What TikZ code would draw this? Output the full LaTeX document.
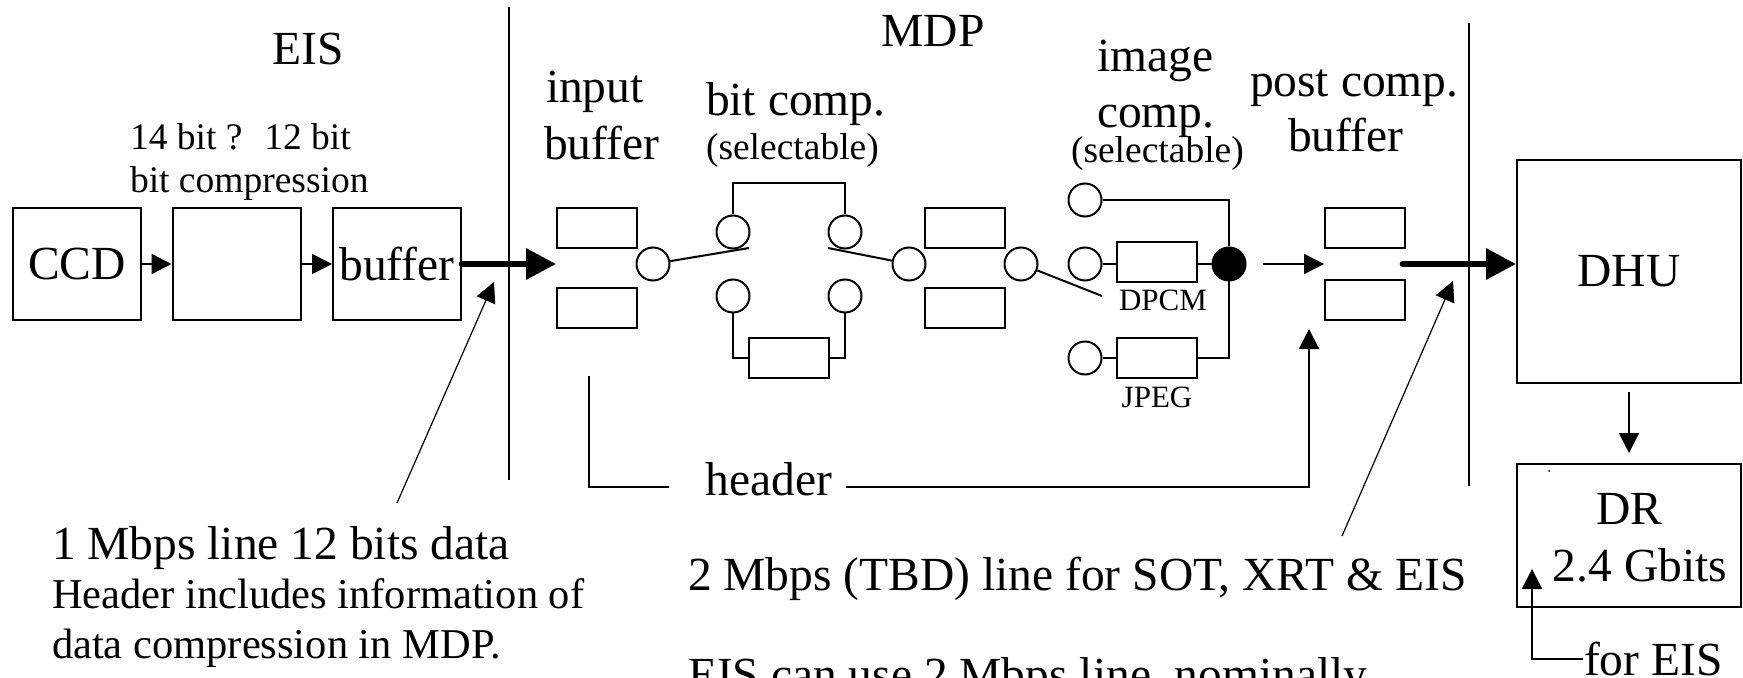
\documentclass[tikz,border=0pt]{standalone}
\usepackage{fontspec}
\setmainfont{Liberation Serif}
\usetikzlibrary{arrows.meta, positioning}

\begin{document}
\begin{tikzpicture}[x=0.5pt, y=-0.5pt, line width=1pt,
  bigtxt/.style={font=\fontsize{23.75}{28}\selectfont, inner sep=0pt},
  midtxt/.style={font=\fontsize{21.25}{25}\selectfont, inner sep=0pt},
  smalltxt/.style={font=\fontsize{18.75}{22}\selectfont, inner sep=0pt},
  tinytxt/.style={font=\fontsize{15.5}{18}\selectfont, inner sep=0pt},
  stage/.style={draw, inner sep=0pt, minimum width=64pt, minimum height=56pt},
  slot/.style={draw, inner sep=0pt, minimum width=40pt, minimum height=20pt},
  port/.style={draw, circle, inner sep=0pt, minimum size=16.5pt},
  arr/.style={-{Triangle[length=10pt, width=10pt]}},
  bus/.style={-{Triangle[length=15pt, width=15pt]}, line width=3.3pt, line cap=round}]
\useasboundingbox (0,0) rectangle (1743,678);

% EIS side
\node[bigtxt, anchor=base] (eis) at (308,65) {EIS};
\node[smalltxt, anchor=base west] (bitnote) at (129,150) {14 bit ?~ 12 bit};
\node[smalltxt, anchor=base west] (bitnote2) at (129,193) {bit compression};
\node[stage, bigtxt] (ccd) at (77,264) {CCD};
\node[stage] (comp) at (236.5,264) {};
\node[stage, bigtxt] (buf) at (397,264) {buffer};
\draw[arr] (ccd) -- (comp);
\draw[arr] (comp) -- (buf);
\coordinate (inTip) at (556,264);
\draw[bus] (buf.east) -- (inTip);

% boundaries
\draw (509,7) -- (509,480);
\draw (1469,23) -- (1469,486);

% MDP labels
\node[bigtxt, anchor=base] (mdp) at (933,47) {MDP};
\node[bigtxt, anchor=base west] (inlbl) at (545,103) {input};
\node[bigtxt, anchor=base west] (inlbl2) at (543,160) {buffer};
\node[bigtxt, anchor=base west] (bclbl) at (705,116) {bit comp.};
\node[smalltxt, anchor=base west] (bcsel) at (705,160) {(selectable)};
\node[bigtxt, anchor=base west] (iclbl) at (1096,72) {image};
\node[bigtxt, anchor=base west] (iclbl2) at (1096,128) {comp.};
\node[smalltxt, anchor=base west] (icsel) at (1070,163) {(selectable)};
\node[bigtxt, anchor=base west] (pclbl) at (1249,97) {post comp.};
\node[bigtxt, anchor=base west] (pclbl2) at (1287,152) {buffer};

% input buffer and bit comp. switch
\node[slot] (ib1) at (597,228) {};
\node[slot] (ib2) at (597,308) {};
\node[port] (s1) at (653,264) {};
\node[port] (u1) at (733,232) {};
\node[port] (u2) at (845,232) {};
\node[port] (d1) at (733,296) {};
\node[port] (d2) at (845,296) {};
\node[slot] (bc) at (789,358) {};
\node[port] (s2) at (909,264) {};
\coordinate (lev1) at (749,248);
\coordinate (lev2) at (828,248);
\draw (s1) -- (lev1);
\draw (lev2) -- (s2);
\draw (u1.north) -- (u1.north |- 0,183) -- (u2.north |- 0,183) -- (u2.north);
\draw (d1.south) |- (bc.west);
\draw (d2.south) |- (bc.east);

% image comp. switch
\node[slot] (mb1) at (965,228) {};
\node[slot] (mb2) at (965,308) {};
\node[port] (s3) at (1021,264) {};
\coordinate (lev3) at (1102,296);
\draw (s3) -- (lev3);
\node[port] (i1) at (1085,200) {};
\node[port] (i2) at (1085,264) {};
\node[port] (i3) at (1085,358) {};
\node[slot] (dpcm) at (1157,262) {};
\node[slot] (jpeg) at (1157,358) {};
\node[tinytxt, anchor=base] (dpcmlbl) at (1163,311) {DPCM};
\node[tinytxt, anchor=base] (jpeglbl) at (1157,407) {JPEG};
\node[draw, fill, circle, inner sep=0pt, minimum size=16.5pt] (dot) at (1229,264) {};
\draw (i1.east) -| (dot.north);
\draw (i2.east) -- (i2.east -| dpcm.west);
\draw (dpcm.east |- dot) -- (dot);
\draw (i3) -- (jpeg);
\draw (jpeg.east) -| (dot.south);

% post comp. buffer
\node[slot] (pb1) at (1365,228) {};
\node[slot] (pb2) at (1365,300) {};
\coordinate (pbIn) at (1324,264);
\draw[arr, shorten <=8pt] (dot.east) -- (pbIn);

% header path
\node[bigtxt, anchor=base] (header) at (769,495) {header};
\coordinate (hdrTop) at (589,376);
\coordinate (hdrL) at (669,487);
\coordinate (hdrR) at (846,487);
\coordinate (pbUp) at (1309,329);
\draw (hdrTop) |- (hdrL);
\draw[arr] (hdrR) -| (pbUp);

% DHU and DR
\node[draw, bigtxt, minimum width=112pt, minimum height=111.5pt] (dhu) at (1629,271.5) {DHU};
\node[draw, minimum width=112pt, minimum height=71.5pt] (dr) at (1629,535.5) {};
\node[bigtxt, anchor=base] (drlbl) at (1629,524) {DR};
\node[bigtxt, anchor=base] (drsize) at (1640,581) {2.4 Gbits};
\fill (1549,471) circle (1);
\coordinate (pbOut) at (1403,264);
\draw[bus] (pbOut) -- (pbOut -| dhu.west);
\draw[arr, shorten <=4pt, shorten >=5pt] (dhu) -- (dr);
\node[bigtxt, anchor=base west] (foreis) at (1583,675) {for EIS};
\coordinate (eisTip) at (1532,569);
\draw[arr] (foreis.west) -| (eisTip);

% notes
\node[bigtxt, anchor=base west] (note1) at (51,559) {1 Mbps line 12 bits data};
\node[midtxt, anchor=base west] (note2) at (51,608) {Header includes information of};
\node[midtxt, anchor=base west] (note3) at (51,658) {data compression in MDP.};
\node[bigtxt, anchor=base west] (note4) at (687,590) {2 Mbps (TBD) line for SOT, XRT \& EIS};
\node[bigtxt, anchor=base west] (note5) at (687,690) {EIS can use 2 Mbps line, nominally.};
\coordinate (ptrA) at (397,503);
\coordinate (ptrAtip) at (494,282);
\coordinate (ptrB) at (1342,536);
\coordinate (ptrBtip) at (1453,281);
\draw[arr, line width=0.6pt] (ptrA) -- (ptrAtip);
\draw[arr, line width=0.6pt] (ptrB) -- (ptrBtip);
\end{tikzpicture}
\end{document}
